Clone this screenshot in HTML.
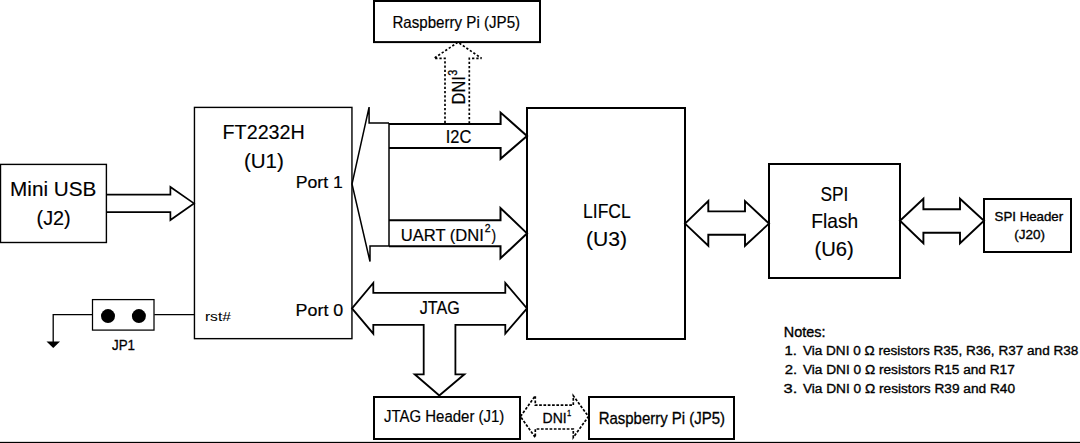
<!DOCTYPE html>
<html><head><meta charset="utf-8"><style>
html,body{margin:0;padding:0;background:#fff;width:1080px;height:443px;overflow:hidden}
svg{display:block}
text{font-family:"Liberation Sans", sans-serif;fill:#000;stroke:#000}
</style></head><body>
<svg width="1080" height="443" viewBox="0 0 1080 443">
<g fill="none" stroke="#000" stroke-width="2" stroke-linejoin="miter" stroke-miterlimit="10">
<!-- boxes -->
<rect x="0.5" y="164.4" width="105.9" height="78.1" stroke-width="1.4"/>
<rect x="194.45" y="107.4" width="157.5" height="231.25" stroke-width="1.4"/>
<rect x="527" y="108" width="158" height="231"/>
<rect x="769" y="164" width="131" height="114"/>
<rect x="984" y="199" width="87" height="53"/>
<rect x="374" y="1" width="166" height="41.1"/>
<rect x="374" y="397" width="146" height="42"/>
<rect x="589" y="397" width="145" height="42"/>
<rect x="92.5" y="299.6" width="61.5" height="30.5" stroke-width="1.25"/>
<!-- USB arrow -->
<polyline points="106.4,194.6 170.4,194.6 170.4,187 194,203.4 170.4,220 170.4,212.2 106.4,212.2" stroke-width="1.7"/>
<!-- port1 wedge -->
<polyline points="389,123 369.1,123 369.1,107.1 352,184 370,261.6 370,246 389,246" stroke-width="1.5" stroke-miterlimit="2"/>
<line x1="389" y1="123" x2="389" y2="246" stroke-width="1.5"/>
<!-- I2C -->
<polyline points="389,124 500.6,124 500.6,112.6 527,135.9 500.6,158.8 500.6,148 389,148"/>
<!-- UART -->
<polyline points="389,220.3 500.5,220.3 500.5,208 527,233.4 500.5,258.3 500.5,246.3 389,246.3"/>
<!-- JTAG -->
<polygon points="352,308.4 373.3,283 373.3,292.8 505.3,292.8 505.3,283 527,308.4 505.3,333.6 505.3,324.8 455.4,324.8 455.4,374.3 464.4,374.3 439.3,395.5 414.7,374.3 423.7,374.3 423.7,324.8 373.3,324.8 373.3,333.7" stroke-width="1.8"/>
<!-- LIFCL-SPI -->
<polygon points="685,223.6 708.3,201.1 708.3,211.4 745,211.4 745,201.1 769,223.6 745,245.8 745,234.7 708.3,234.7 708.3,245.8" stroke-width="1.9"/>
<!-- SPI-Header -->
<polygon points="900,220.8 923.4,198.7 923.4,209.2 960,209.2 960,198.7 984,220.8 960,243.3 960,232.8 923.4,232.8 923.4,243.3" stroke-width="1.9"/>
<!-- JP1 wires -->
<polyline points="154.3,314.7 194.5,314.7" stroke-width="1.3"/>
<polyline points="92.5,314.7 53.2,314.7 53.2,342" stroke-width="1.3"/>
</g>
<g fill="none" stroke="#000" stroke-width="1.7">
<polygon stroke-dasharray="2.7 1.6" points="520.5,416.5 535.3,395.8 535.3,405.2 573.3,405.2 573.3,395.8 588.5,416.5 573.3,437.5 573.3,429 535.3,429 535.3,437.5"/>
<polyline stroke-dasharray="2.3 1.95" stroke-miterlimit="3" points="445,123 445,58.3 434,58.3 458,42.2 481.5,58.3 469.3,58.3 469.3,123"/>
</g>
<g fill="#000">
<circle cx="108" cy="316.1" r="7"/>
<circle cx="138.9" cy="316.1" r="7"/>
<polygon points="46.5,341.5 60,341.5 53.25,348"/>
<rect x="0" y="441.85" width="1080" height="1.15"/>
</g>

<text transform='translate(10.07,196.20) scale(1.0329,1)' font-size='20.06' stroke-width='0.15'>Mini USB</text>
<text transform='translate(36.52,224.70) scale(0.9758,1)' font-size='20.35' stroke-width='0.15'>(J2)</text>
<text transform='translate(222.54,139.20) scale(0.9571,1)' font-size='20.64' stroke-width='0.15'>FT2232H</text>
<text transform='translate(243.89,167.50) scale(1.0105,1)' font-size='20.35' stroke-width='0.15'>(U1)</text>
<text transform='translate(295.76,188.10) scale(1.0386,1)' font-size='17.01' stroke-width='0.2'>Port 1</text>
<text transform='translate(295.62,315.90) scale(1.0791,1)' font-size='16.57' stroke-width='0.2'>Port 0</text>
<text transform='translate(204.93,321.40) scale(1.1667,1)' font-size='13.37' stroke-width='0.05'>rst#</text>
<text transform='translate(112.00,349.60) scale(0.8769,1)' font-size='15.26' stroke-width='0.3'>JP1</text>
<text transform='translate(392.40,27.50) scale(0.9043,1)' font-size='16.72' stroke-width='0.2'>Raspberry Pi (JP5)</text>
<text transform='translate(445.80,142.80) scale(0.8963,1)' font-size='18.31' stroke-width='0.2'>I2C</text>
<text transform='translate(400.74,240.60) scale(0.9576,1)' font-size='17.30' stroke-width='0.2'>UART (DNI</text>
<text transform='translate(484.80,231.90) scale(0.9000,1)' font-size='11.63' stroke-width='0.3'>2</text>
<text transform='translate(491.60,240.60) scale(0.8000,1)' font-size='17.30' stroke-width='0.2'>)</text>
<text transform='translate(419.80,313.90) scale(0.8886,1)' font-size='18.17' stroke-width='0.2'>JTAG</text>
<text transform='translate(583.05,217.50) scale(0.8491,1)' font-size='20.64' stroke-width='0.15'>LIFCL</text>
<text transform='translate(585.88,245.90) scale(1.0237,1)' font-size='20.64' stroke-width='0.15'>(U3)</text>
<text transform='translate(820.45,200.70) scale(0.8500,1)' font-size='20.35' stroke-width='0.15'>SPI</text>
<text transform='translate(811.34,227.90) scale(0.9553,1)' font-size='20.06' stroke-width='0.15'>Flash</text>
<text transform='translate(814.46,255.70) scale(1.0389,1)' font-size='19.48' stroke-width='0.15'>(U6)</text>
<text transform='translate(994.59,220.80) scale(1.0149,1)' font-size='13.08' stroke-width='0.35'>SPI Header</text>
<text transform='translate(1014.29,239.00) scale(1.0103,1)' font-size='13.37' stroke-width='0.35'>(J20)</text>
<text transform='translate(384.00,422.00) scale(0.8955,1)' font-size='16.72' stroke-width='0.2'>JTAG Header (J1)</text>
<text transform='translate(542.55,422.90) scale(0.9522,1)' font-size='14.68' stroke-width='0.3'>DNI</text>
<text transform='translate(567.00,415.60) scale(0.8400,1)' font-size='9.01' stroke-width='0.3'>1</text>
<g transform='translate(465.3,103.5) rotate(-90)'><text transform='translate(-0.93,0.00) scale(0.9286,1)' font-size='17.73' stroke-width='0.2'>DNI</text></g>
<g transform='translate(456.9,75.7) rotate(-90)'><text transform='translate(0.00,0.00) scale(0.8286,1)' font-size='13.08' stroke-width='0.3'>3</text></g>
<text transform='translate(598.65,423.60) scale(0.9542,1)' font-size='15.70' stroke-width='0.3'>Raspberry Pi (JP5)</text>
<text transform='translate(783.87,337.20) scale(1.0333,1)' font-size='13.95' stroke-width='0.35'>Notes:</text>
<text transform='translate(784.61,355.00) scale(1.0889,1)' font-size='13.66' stroke-width='0.35'>1.</text>
<text transform='translate(802.90,355.00) scale(0.9949,1)' font-size='13.66' stroke-width='0.35'>Via DNI 0 Ω resistors R35, R36, R37 and R38</text>
<text transform='translate(784.70,374.20) scale(1.0900,1)' font-size='13.66' stroke-width='0.35'>2.</text>
<text transform='translate(802.90,374.00) scale(1.0005,1)' font-size='13.66' stroke-width='0.35'>Via DNI 0 Ω resistors R15 and R17</text>
<text transform='translate(783.49,393.00) scale(1.2111,1)' font-size='13.66' stroke-width='0.35'>3.</text>
<text transform='translate(802.90,393.00) scale(1.0024,1)' font-size='13.66' stroke-width='0.35'>Via DNI 0 Ω resistors R39 and R40</text>
</svg>
</body></html>
